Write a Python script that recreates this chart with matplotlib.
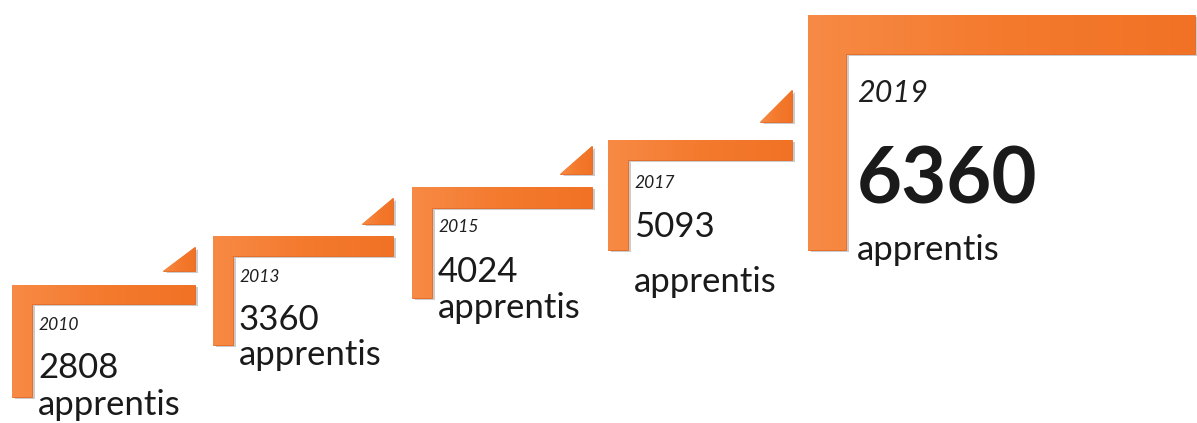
import numpy as np
import matplotlib.pyplot as plt
from matplotlib.patches import Polygon
from matplotlib.colors import LinearSegmentedColormap

years = ["2010", "2013", "2015", "2017", "2019"]
counts = [2808, 3360, 4024, 5093, 6360]
unit = "apprentis"

# step layout (pixels, y grows downward)
left = [12, 213, 412, 608, 808]
top = [285, 236, 187, 140, 15]
right = [195, 393, 592, 792, 1195]
thick = [19, 20, 21, 20, 39]
bottom = [397, 345, 298, 250, 250]
vwidth = [20, 20, 20, 20, 38]
tri = [(163, 247, 271), (362, 198, 224), (560, 146, 174), (760, 90, 122), None]

year_base = [330, 282, 232, 188, 102]
num_base = [378, 330, 282, 237, 203]
unit_base = [415, 365, 318, 292, 260]

ORANGE = "#F47A2E"
cmap = LinearSegmentedColormap.from_list("or", ["#F78A45", "#F47A2E", "#F17225"])
FONT = "Lato"

fig = plt.figure(figsize=(11.97, 4.23), dpi=100)
ax = fig.add_axes([0, 0, 1, 1])
ax.set_xlim(0, 1197)
ax.set_ylim(423, 0)
ax.axis("off")

grad = np.linspace(0, 1, 256).reshape(1, -1)


def fill_grad(pts, x0, x1, y0, y1):
    # soft shadow, then gradient clipped to the shape
    sh = Polygon([(x + 2.5, y + 2.5) for x, y in pts], closed=True,
                 fc="#555555", ec="none", alpha=0.3, zorder=1)
    ax.add_patch(sh)
    poly = Polygon(pts, closed=True, fc=ORANGE, ec="#E8661E", lw=0.6, zorder=2)
    ax.add_patch(poly)
    im = ax.imshow(grad, cmap=cmap, extent=(x0, x1, y1, y0), aspect="auto",
                   zorder=3, interpolation="bilinear")
    im.set_clip_path(poly)


for i in range(len(years)):
    l, t, r, th, b, vw = left[i], top[i], right[i], thick[i], bottom[i], vwidth[i]
    pts = [(l, t), (r, t), (r, t + th), (l + vw, t + th), (l + vw, b), (l, b)]
    fill_grad(pts, l, r, t, b)
    ax.set_xlim(0, 1197)
    ax.set_ylim(423, 0)

    if tri[i] is not None:
        tx, ty0, ty1 = tri[i]
        tpts = [(tx, ty1), (r, ty1), (r, ty0)]
        fill_grad(tpts, tx, r, ty0, ty1)
        ax.set_xlim(0, 1197)
        ax.set_ylim(423, 0)

    last = i == len(years) - 1
    tx = l + (49 if last else 26)
    ax.text(tx, year_base[i], years[i], fontsize=22 if last else 12.5,
            fontstyle="italic", family=FONT, color="#1e1e1e", va="baseline", zorder=5)
    ax.text(tx, num_base[i], str(counts[i]), fontsize=56 if last else 25,
            fontweight="bold" if last else "normal", family=FONT,
            color="#1a1a1a", va="baseline", zorder=5)
    ax.text(tx, unit_base[i], unit, fontsize=25, family=FONT,
            color="#1a1a1a", va="baseline", zorder=5)

fig.savefig("out.png", dpi=100)
